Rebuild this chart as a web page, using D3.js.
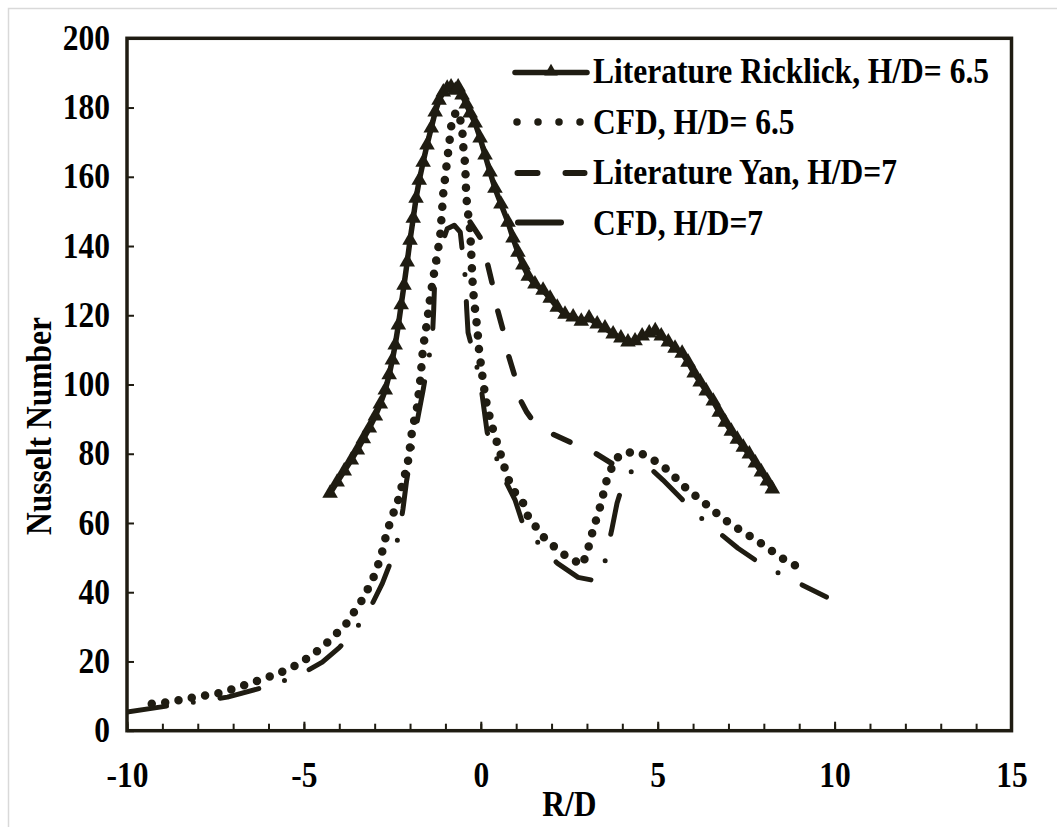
<!DOCTYPE html>
<html>
<head>
<meta charset="utf-8">
<script src="https://cdn.jsdelivr.net/npm/d3@7"></script>
<style>
  html, body { margin: 0; padding: 0; background: #fff; }
  svg { display: block; }
  text { font-family: "Liberation Serif", "Times New Roman", serif; font-weight: bold; fill: #000; }
</style>
</head>
<body>
<svg id="chart" width="1057" height="827"></svg>
<script>
// Nusselt number along R/D for impinging-jet cases
const xTickValues = [-10, -5, 0, 5, 10, 15];
const yTickValues = [0, 20, 40, 60, 80, 100, 120, 140, 160, 180, 200];

const ricklick65 = [
  [-4.26,68.6],[-4.06,71.8],[-3.86,75.0],[-3.66,78.2],[-3.49,81.1],[-3.32,84.3],[-3.15,87.4],
  [-2.98,90.9],[-2.84,94.4],[-2.70,98.4],[-2.59,102.8],[-2.50,107.1],[-2.42,111.4],[-2.33,117.2],
  [-2.25,123.0],[-2.17,128.7],[-2.08,135.4],[-2.00,141.7],[-1.91,148.0],[-1.83,153.8],[-1.74,159.0],
  [-1.63,164.2],[-1.52,169.2],[-1.40,174.1],[-1.29,178.7],[-1.18,182.1],[-1.06,184.5],[-0.95,185.6],
  [-0.84,185.9],[-0.72,185.0],[-0.64,185.9],[-0.53,183.6],[-0.41,181.0],[-0.30,178.4],[-0.16,175.5],
  [-0.02,171.2],[0.12,166.3],[0.26,161.4],[0.40,156.7],[0.57,152.1],[0.77,146.9],[0.91,142.3],
  [1.05,138.2],[1.19,134.5],[1.34,131.3],[1.53,129.0],[1.76,127.2],[1.96,124.9],[2.16,122.3],
  [2.38,120.3],[2.61,119.5],[2.84,118.3],[3.06,119.2],[3.29,117.5],[3.51,116.3],[3.74,114.6],
  [3.96,113.4],[4.16,112.3],[4.36,112.6],[4.56,114.0],[4.76,114.9],[4.93,115.5],[5.10,114.0],
  [5.30,112.3],[5.49,110.5],[5.69,109.0],[5.86,106.4],[6.03,103.3],[6.20,100.7],[6.37,98.1],
  [6.57,95.2],[6.74,92.0],[6.91,89.1],[7.08,86.5],[7.25,84.2],[7.42,81.9],[7.59,79.9],
  [7.76,77.3],[7.93,74.7],[8.10,72.1],[8.24,69.8]
];

const cfd65 = [
  [-9.30,7.8],[-8.78,8.3],[-8.26,9.4],[-7.36,10.9],[-6.51,13.7],[-5.75,16.4],[-5.10,19.5],
  [-4.48,24.1],[-3.83,30.5],[-3.32,38.3],[-3.04,44.1],[-2.90,48.0],[-2.79,51.6],[-2.64,58.0],
  [-2.50,61.7],[-2.42,64.6],[-2.28,68.0],[-2.22,71.5],[-2.08,76.2],[-2.00,82.0],[-1.94,86.8],
  [-1.80,93.5],[-1.71,101.3],[-1.63,110.8],[-1.52,118.0],[-1.43,125.2],[-1.34,131.0],[-1.15,142.6],
  [-1.06,155.3],[-0.95,164.8],[-0.87,171.5],[-0.81,176.9],[-0.67,179.0],[-0.53,174.9],[-0.50,169.2],
  [-0.44,163.4],[-0.42,157.0],[-0.39,151.8],[-0.30,144.6],[-0.27,138.0],[-0.25,133.1],[-0.22,127.3],
  [-0.16,121.5],[-0.10,116.3],[-0.05,110.0],[0.07,100.4],[0.18,93.5],[0.35,86.8],[0.55,80.2],
  [0.75,73.3],[0.92,69.5],[1.20,65.7],[1.34,61.8],[1.77,56.0],[2.24,51.6],[2.52,49.9],
  [2.86,47.8],[3.00,51.3],[3.17,57.9],[3.37,64.6],[3.56,72.4],[3.79,78.2],[4.02,80.2],
  [4.45,80.5],[4.78,78.8],[5.12,76.7],[5.34,74.7],[5.63,71.8],[5.86,69.5],[6.11,67.5],
  [6.39,65.2],[6.67,62.8],[6.98,60.3],[7.32,58.0],[7.69,55.7],[8.11,52.8],[8.45,50.2],[8.88,47.8]
];

const yan7 = [
  [-0.30,146.9],[-0.02,142.5],[0.18,135.3],[0.32,129.3],[0.46,122.0],[0.63,115.7],[0.78,108.5],
  [0.97,102.1],[1.12,95.5],[1.30,92.0],[1.46,89.7],[1.96,86.0],[2.58,83.1],[3.18,80.5],[3.86,76.2]
];

const cfd7 = [
  [-10.00,5.4],[-8.75,7.3],[-7.16,9.7],[-5.89,13.2],[-5.10,16.2],[-4.48,19.8],[-4.00,24.0],
  [-3.55,29.0],[-3.10,36.0],[-2.78,42.6],[-2.50,50.0],[-2.33,56.0],[-2.20,64.0],[-2.10,72.0],
  [-1.91,83.3],[-1.75,92.0],[-1.63,98.4],[-1.50,106.0],[-1.37,113.0],[-1.33,122.0],[-1.30,131.0],
  [-1.15,139.0],[-0.95,145.0],[-0.75,146.0],[-0.58,144.0],[-0.44,131.0],[-0.40,122.0],[-0.36,115.0],
  [-0.18,108.0],[-0.02,101.3],[0.18,86.2],[0.64,73.3],[0.97,66.6],[1.20,59.4],[1.68,53.6],
  [2.16,48.4],[2.75,44.3],[3.15,43.5],[3.43,45.0],[3.71,58.5],[3.85,65.7],[4.07,73.0],
  [4.45,76.7],[4.79,75.8],[5.15,72.4],[5.68,66.9],[6.20,61.7],[7.27,52.7],[7.89,48.4],
  [8.51,45.0],[9.77,38.6]
];

const seriesNames = [
  "Literature Ricklick, H/D= 6.5",
  "CFD, H/D= 6.5",
  "Literature Yan, H/D=7",
  "CFD, H/D=7"
];

const ink = "#1f1c12";
const fontSize = 35;
const squeeze = 0.9;   // narrow bold serif look
const svg = d3.select("#chart");

// outer sheet border
svg.append("rect")
  .attr("x", 8.5).attr("y", 8.5).attr("width", 1100).attr("height", 900)
  .attr("fill", "none").attr("stroke", "#d9d9d9").attr("stroke-width", 1.5);

const plot = { left: 127, right: 1011.5, top: 38.3, bottom: 730.7 };
const x = d3.scaleLinear().domain([-10, 15]).range([plot.left, plot.right]);
const y = d3.scaleLinear().domain([0, 200]).range([plot.bottom, plot.top]);
const plainNumber = d => String(d);

// minor ticks on x every unit
const xMinor = svg.append("g")
  .attr("transform", `translate(0,${plot.bottom})`)
  .call(d3.axisBottom(x).tickValues(d3.range(-10, 16, 1)).tickSize(-7).tickFormat(""));
xMinor.select(".domain").remove();
xMinor.selectAll("line").attr("stroke", ink).attr("stroke-width", 2);

const xAxis = svg.append("g")
  .attr("transform", `translate(0,${plot.bottom})`)
  .call(d3.axisBottom(x).tickValues(xTickValues).tickSize(-9).tickPadding(31).tickFormat(plainNumber));
xAxis.select(".domain").remove();
xAxis.selectAll("line").attr("stroke", ink).attr("stroke-width", 2);
xAxis.selectAll("text")
  .attr("font-size", fontSize).attr("font-family", "Liberation Serif").attr("font-weight", "bold")
  .attr("fill", "#000").attr("transform", `scale(${squeeze},1)`);
xAxis.selectAll(".tick").each(function (d) {
  // keep labels centred on their tick after the horizontal squeeze
  d3.select(this).select("text").attr("transform", `scale(${squeeze},1)`);
});

const yAxis = svg.append("g")
  .attr("transform", `translate(${plot.left},0)`)
  .call(d3.axisLeft(y).tickValues(yTickValues).tickSize(-7).tickPadding(19).tickFormat(plainNumber));
yAxis.select(".domain").remove();
yAxis.selectAll("line").attr("stroke", ink).attr("stroke-width", 2);
yAxis.selectAll("text")
  .attr("font-size", fontSize).attr("font-family", "Liberation Serif").attr("font-weight", "bold")
  .attr("fill", "#000").attr("transform", `scale(${squeeze},1)`);

// plot frame
svg.append("rect")
  .attr("x", plot.left).attr("y", plot.top)
  .attr("width", plot.right - plot.left).attr("height", plot.bottom - plot.top)
  .attr("fill", "none").attr("stroke", ink).attr("stroke-width", 3.5);

// axis titles
svg.append("text")
  .attr("transform", `translate(${(plot.left + plot.right) / 2},816) scale(${squeeze},1)`)
  .attr("text-anchor", "middle").attr("font-size", fontSize).text("R/D");
svg.append("text")
  .attr("transform", `translate(51,426) rotate(-90) scale(${squeeze},1)`)
  .attr("text-anchor", "middle").attr("font-size", fontSize).text("Nusselt Number");

const line = d3.line().x(d => x(d[0])).y(d => y(d[1]));
const clipId = "plotclip";
svg.append("clipPath").attr("id", clipId).append("rect")
  .attr("x", plot.left).attr("y", plot.top - 20)
  .attr("width", plot.right - plot.left).attr("height", plot.bottom - plot.top + 20);
const g = svg.append("g").attr("clip-path", `url(#${clipId})`);

// CFD H/D=7 : long dash - dot
g.append("path").datum(cfd7).attr("d", line)
  .attr("fill", "none").attr("stroke", ink).attr("stroke-width", 5)
  .attr("stroke-linecap", "round").attr("stroke-linejoin", "round")
  .attr("stroke-dasharray", "40 27 0 27");

// Literature Yan H/D=7 : dashes
g.append("path").datum(yan7).attr("d", line)
  .attr("fill", "none").attr("stroke", ink).attr("stroke-width", 5.5)
  .attr("stroke-linecap", "round").attr("stroke-linejoin", "round")
  .attr("stroke-dasharray", "18 29");

// CFD H/D=6.5 : round dots
g.append("path").datum(cfd65).attr("d", line)
  .attr("fill", "none").attr("stroke", ink).attr("stroke-width", 8.5)
  .attr("stroke-linecap", "round").attr("stroke-linejoin", "round")
  .attr("stroke-dasharray", "0 13.5");

// Literature Ricklick H/D=6.5 : line with triangle markers
g.append("path").datum(ricklick65).attr("d", line)
  .attr("fill", "none").attr("stroke", ink).attr("stroke-width", 5.5)
  .attr("stroke-linejoin", "round");
const tri = d3.symbol().type(d3.symbolTriangle).size(105);
g.selectAll("path.tri").data(ricklick65).enter().append("path")
  .attr("class", "tri")
  .attr("d", tri)
  .attr("transform", d => `translate(${x(d[0])},${y(d[1])})`)
  .attr("fill", ink);

// legend
const lg = svg.append("g");
const rows = [83, 133.5, 184, 234.5];
const sampleY = [72.5, 122, 173, 222.5];
lg.append("line").attr("x1", 515).attr("x2", 587).attr("y1", sampleY[0]).attr("y2", sampleY[0])
  .attr("stroke", ink).attr("stroke-width", 5.5).attr("stroke-linecap", "round");
lg.append("path").attr("d", d3.symbol().type(d3.symbolTriangle).size(80))
  .attr("transform", `translate(551,${sampleY[0] - 1})`).attr("fill", ink);
lg.append("line").attr("x1", 517).attr("x2", 581).attr("y1", sampleY[1]).attr("y2", sampleY[1])
  .attr("stroke", ink).attr("stroke-width", 7.5).attr("stroke-linecap", "round")
  .attr("stroke-dasharray", "0 21");
lg.append("line").attr("x1", 517.5).attr("x2", 584.5).attr("y1", sampleY[2]).attr("y2", sampleY[2])
  .attr("stroke", ink).attr("stroke-width", 6).attr("stroke-linecap", "round")
  .attr("stroke-dasharray", "20 28");
lg.append("line").attr("x1", 518).attr("x2", 561).attr("y1", sampleY[3]).attr("y2", sampleY[3])
  .attr("stroke", ink).attr("stroke-width", 6).attr("stroke-linecap", "round");
lg.selectAll("text.lab").data(seriesNames).enter().append("text")
  .attr("class", "lab")
  .attr("transform", (d, i) => `translate(593,${rows[i]}) scale(${squeeze},1)`)
  .attr("font-size", fontSize).text(d => d);
</script>
</body>
</html>
